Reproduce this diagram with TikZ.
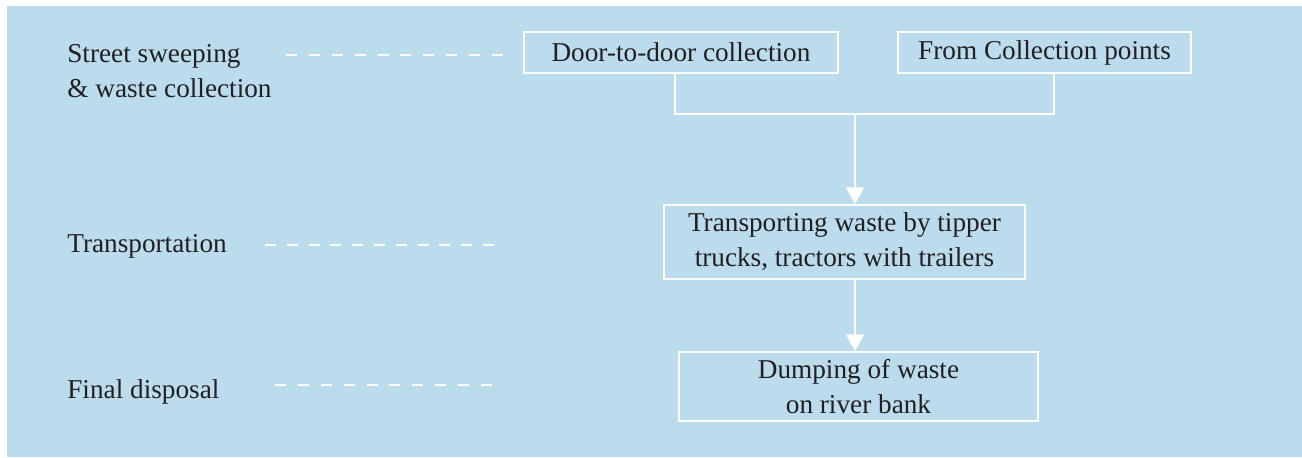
\documentclass[tikz,border=0pt]{standalone}
\usepackage{fontspec}
\setmainfont{Liberation Serif}
\usetikzlibrary{arrows.meta,calc}

\definecolor{panelblue}{RGB}{187,220,236}
\definecolor{inkgray}{RGB}{35,31,32}

\tikzset{
  label/.style={anchor=west, align=left, inner sep=0pt, text=inkgray,
    font=\fontsize{15.5}{19.8}\selectfont},
  stage/.style={draw=white, line width=0.8pt, inner sep=0pt, align=center,
    text=inkgray, font=\fontsize{15.5}{19.8}\selectfont},
  leader/.style={white, line width=0.6pt, dash pattern=on 0.22cm off #1},
  leader/.default=0.238cm,
  link/.style={white, line width=0.8pt},
  flow/.style={link, -{Triangle[width=0.36cm,length=0.34cm]}}
}

\begin{document}
\begin{tikzpicture}[x=0.02cm, y=-0.02cm]
  % Background panel
  \useasboundingbox (0,0) rectangle (1302,457);
  \fill[panelblue] (7,6) rectangle (1302,457);

  % Row labels on the left
  \node[label] (lblcollect) at (67,71) {Street sweeping\\\& waste collection};
  \node[label] (lbltransport) at (67,246) {Transportation};
  \node[label] (lbldisposal) at (67,392) {Final disposal};

  % Dashed leaders
  \draw[leader] (286,55) -- (503,55);
  \draw[leader=0.216cm] (265,245) -- (494,245);
  \draw[leader] (275,385) -- (494,385);

  % The stage boxes
  \node[stage, minimum width=6.28cm, minimum height=0.82cm] (door) at (681,52.5)
    {Door-to-door collection};
  \node[stage, minimum width=5.86cm, minimum height=0.82cm] (points) at (1044.5,52.5)
    {From Collection points};
  \node[stage, minimum width=7.22cm, minimum height=1.48cm] (truck) at (844.5,242)
    {Transporting waste by tipper\\trucks, tractors with trailers};
  \node[stage, minimum width=7.18cm, minimum height=1.38cm] (dump) at (858.5,386.5)
    {Dumping of waste\\on river bank};

  % Join the two collection boxes and go down
  \coordinate (join) at (855,114);
  \draw[link] ([xshift=-0.12cm]door.south) |- (join) -| ([xshift=0.19cm]points.south);
  \draw[flow] (join) -- (join |- truck.north);
  \draw[flow] (join |- truck.south) -- (join |- dump.north);
\end{tikzpicture}
\end{document}
